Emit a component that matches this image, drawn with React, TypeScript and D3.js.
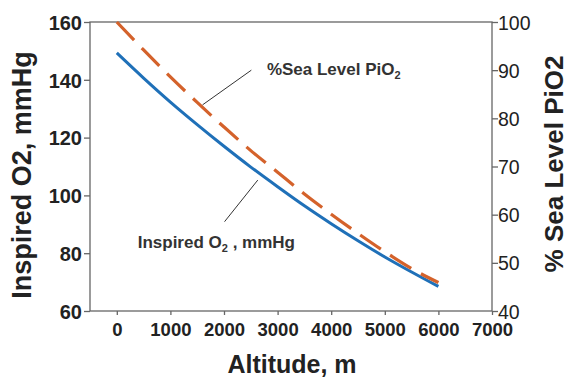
import React, { useEffect, useRef } from 'react';
import * as d3 from 'd3';

// Altitude (m) and values
const altitude = [0, 500, 1000, 1500, 2000, 2500, 3000, 3500, 4000, 4500, 5000, 5500, 6000];
const inspiredO2 = [149.3, 140.6, 132.3, 124.5, 117.0, 109.8, 103.0, 96.4, 90.2, 84.3, 78.7, 73.5, 68.5];
const pctSeaLevel = [100, 94.2, 88.6, 83.3, 78.2, 73.3, 68.8, 64.3, 60.1, 56.1, 52.3, 48.8, 45.9];

const xTicks = [0, 1000, 2000, 3000, 4000, 5000, 6000, 7000];
const leftTicks = [60, 80, 100, 120, 140, 160];
const rightTicks = [40, 50, 60, 70, 80, 90, 100];

const FONT = "Arial, 'Liberation Sans', Helvetica, sans-serif";

export default function App() {
    const ref = useRef<SVGSVGElement>(null);

    useEffect(() => {
        if (!ref.current) return;
        const svg = d3.select(ref.current);
        svg.selectAll("*").remove();

        const left = 90, right = 492, top = 22, bottom = 311;

        const x = d3.scaleLinear().domain([-500, 7000]).range([left, right]);
        const yL = d3.scaleLinear().domain([60, 160]).range([bottom, top]);
        const yR = d3.scaleLinear().domain([40, 100]).range([bottom, top]);

        const axisColor = "#666";

        // frame
        svg.append("rect")
            .attr("x", left).attr("y", top)
            .attr("width", right - left).attr("height", bottom - top)
            .attr("fill", "none")
            .attr("stroke", axisColor)
            .attr("stroke-width", 1.3);

        // left axis
        const gl = svg.append("g").attr("transform", `translate(${left},0)`)
            .call(d3.axisLeft(yL).tickValues(leftTicks).tickSize(6).tickPadding(2).tickSizeOuter(0));
        gl.select(".domain").remove();
        gl.selectAll("line").attr("stroke", axisColor).attr("stroke-width", 1.3);
        gl.selectAll("text")
            .attr("font-family", FONT).attr("font-size", 20).attr("font-weight", "bold")
            .attr("fill", "#222").attr("dy", "0.36em");

        // right axis
        const gr = svg.append("g").attr("transform", `translate(${right},0)`)
            .call(d3.axisRight(yR).tickValues(rightTicks).tickSize(6).tickPadding(0).tickSizeOuter(0));
        gr.select(".domain").remove();
        gr.selectAll("line").attr("stroke", axisColor).attr("stroke-width", 1.3);
        gr.selectAll("text")
            .attr("font-family", FONT).attr("font-size", 19.5)
            .attr("fill", "#222").attr("dy", "0.36em");

        // bottom axis
        const gb = svg.append("g").attr("transform", `translate(0,${bottom})`)
            .call(d3.axisBottom(x).tickValues(xTicks).tickFormat(d3.format("d")).tickSize(4).tickPadding(8).tickSizeOuter(0));
        gb.select(".domain").remove();
        gb.selectAll("line").attr("stroke", axisColor).attr("stroke-width", 1.3);
        gb.selectAll("text")
            .attr("font-family", FONT).attr("font-size", 18.5).attr("font-weight", "bold")
            .attr("fill", "#222");

        // lines
        const blueLine = d3.line<number>()
            .x((_, i) => x(altitude[i]))
            .y(d => yL(d))
            .curve(d3.curveMonotoneX);
        const orangeLine = d3.line<number>()
            .x((_, i) => x(altitude[i]))
            .y(d => yR(d))
            .curve(d3.curveMonotoneX);

        svg.append("path")
            .attr("d", blueLine(inspiredO2))
            .attr("fill", "none")
            .attr("stroke", "#1f70b8")
            .attr("stroke-width", 3);

        svg.append("path")
            .attr("d", orangeLine(pctSeaLevel))
            .attr("fill", "none")
            .attr("stroke", "#d4622b")
            .attr("stroke-width", 3.2)
            .attr("stroke-dasharray", "25,11");

        // annotations
        const annColor = "#333";
        svg.append("line")
            .attr("x1", x(2510)).attr("y1", yR(90))
            .attr("x2", x(1600)).attr("y2", yR(82.8))
            .attr("stroke", annColor).attr("stroke-width", 1);
        const t1 = svg.append("text")
            .attr("x", x(2800)).attr("y", yR(89))
            .attr("font-family", FONT).attr("font-size", 17).attr("font-weight", "bold")
            .attr("fill", annColor);
        t1.append("tspan").text("%Sea Level PiO");
        t1.append("tspan").attr("font-size", 11).attr("dy", 4).text("2");

        svg.append("line")
            .attr("x1", x(2630)).attr("y1", yL(105.3))
            .attr("x2", x(2010)).attr("y2", yL(90.9))
            .attr("stroke", annColor).attr("stroke-width", 1);
        const t2 = svg.append("text")
            .attr("x", x(390)).attr("y", yL(81.8))
            .attr("font-family", FONT).attr("font-size", 17).attr("font-weight", "bold")
            .attr("fill", annColor);
        t2.append("tspan").text("Inspired O");
        t2.append("tspan").attr("font-size", 11).attr("dy", 4).text("2");
        t2.append("tspan").attr("dy", -4).text(" , mmHg");

        // axis titles
        svg.append("text")
            .attr("transform", `translate(31,175) rotate(-90)`)
            .attr("text-anchor", "middle")
            .attr("font-family", FONT).attr("font-size", 27).attr("font-weight", "bold")
            .attr("fill", "#222")
            .text("Inspired O2, mmHg");

        svg.append("text")
            .attr("transform", `translate(563,164) rotate(-90)`)
            .attr("text-anchor", "middle")
            .attr("font-family", FONT).attr("font-size", 26).attr("font-weight", "bold")
            .attr("fill", "#222")
            .text("% Sea Level PiO2");

        svg.append("text")
            .attr("x", 292).attr("y", 373)
            .attr("text-anchor", "middle")
            .attr("font-family", FONT).attr("font-size", 25).attr("font-weight", "bold")
            .attr("fill", "#222")
            .text("Altitude, m");
    }, []);

    return (
        <div style={{ position: 'absolute', left: 0, top: 0 }}>
            <svg ref={ref} width={569} height={378} style={{ display: 'block', background: '#fff' }}></svg>
        </div>
    );
}
